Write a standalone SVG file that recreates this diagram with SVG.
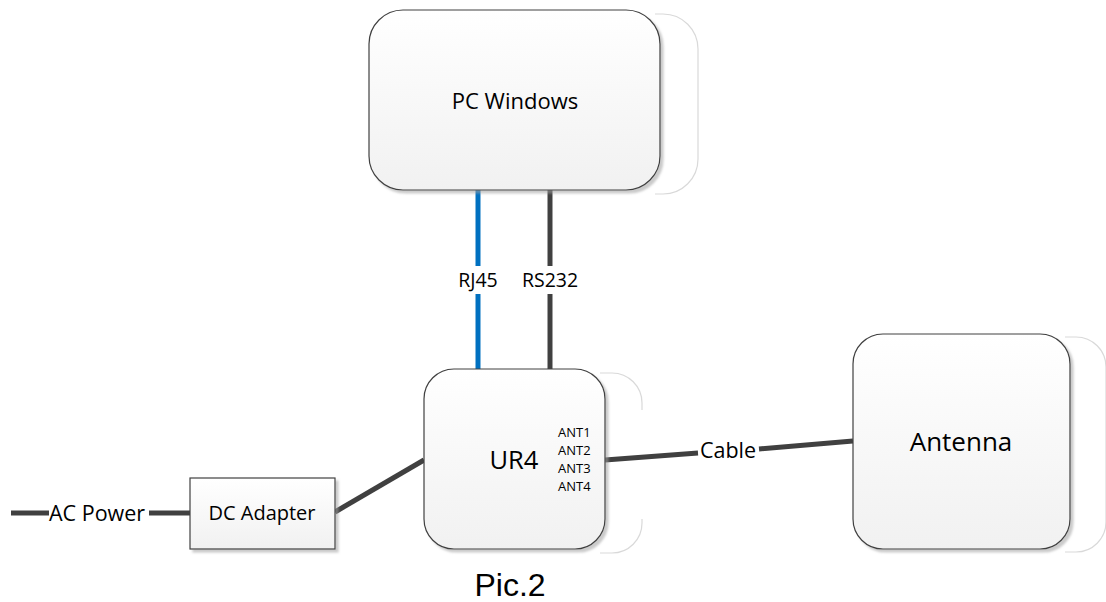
<svg xmlns="http://www.w3.org/2000/svg" width="1106" height="602" viewBox="0 0 1106 602">
<style>
.box{fill:url(#g);stroke:#404040;stroke-width:1.2;filter:url(#sh)}
.ghost{fill:none;stroke:#d9d9d9;stroke-width:1.2}
.ln{stroke:#404040;stroke-width:5;fill:none}
.blue{stroke:#0070C0;stroke-width:5;fill:none}
.t{font-family:"Open Sans","Noto Sans",sans-serif;fill:#000}
</style>
<defs>
<linearGradient id="g" x1="0" y1="0" x2="0" y2="1">
<stop offset="0" stop-color="#ffffff"/>
<stop offset="1" stop-color="#f1f1f1"/>
</linearGradient>
<filter id="sh" x="-10%" y="-10%" width="125%" height="125%">
<feDropShadow dx="3" dy="3" stdDeviation="1.2" flood-color="#a0a0a0" flood-opacity="0.55"/>
</filter>
</defs>
<rect width="1106" height="602" fill="#ffffff"/>
<g id="connectors">
<line class="ln" x1="11" y1="513" x2="49" y2="513"/>
<line class="ln" x1="149" y1="513" x2="190" y2="513"/>
<line class="ln" x1="335" y1="512" x2="424" y2="460"/>
<line class="ln" x1="605" y1="460" x2="698" y2="453"/>
<line class="ln" x1="759" y1="449" x2="853" y2="441"/>
<line class="blue" x1="478" y1="190" x2="478" y2="266"/>
<line class="blue" x1="478" y1="294" x2="478" y2="369"/>
<line class="ln" x1="550" y1="190" x2="550" y2="266"/>
<line class="ln" x1="550" y1="294" x2="550" y2="369"/>
<text class="t" x="49" y="521" font-size="21.5">AC Power</text>
<text class="t" x="728" y="458" font-size="21.5" text-anchor="middle">Cable</text>
<text class="t" x="478" y="287" font-size="19.5" text-anchor="middle">RJ45</text>
<text class="t" x="550" y="287" font-size="19.5" text-anchor="middle">RS232</text>
</g>
<g id="pc">
<path class="ghost" d="M655 14 H663 A35 35 0 0 1 698 49 V159 A35 35 0 0 1 663 194 H655"/>
<rect class="box" x="369" y="10" width="291" height="180" rx="34" ry="34"/>
<text class="t" x="515" y="109" font-size="22" text-anchor="middle">PC Windows</text>
</g>
<g id="ur4">
<path class="ghost" d="M600 373 H612 A30 30 0 0 1 642 403 V410"/>
<path class="ghost" d="M642 519 V523 A30 30 0 0 1 612 553 H600"/>
<rect class="box" x="424" y="369" width="181" height="180" rx="30" ry="30"/>
<text class="t" x="514" y="469" font-size="25.5" text-anchor="middle">UR4</text>
<text class="t" x="558" y="437" font-size="13">ANT1</text>
<text class="t" x="558" y="455" font-size="13">ANT2</text>
<text class="t" x="558" y="473" font-size="13">ANT3</text>
<text class="t" x="558" y="491" font-size="13">ANT4</text>
</g>
<g id="antenna">
<path class="ghost" d="M1065 337 H1076 A30 30 0 0 1 1106 367 V522 A30 30 0 0 1 1076 552 H1065"/>
<rect class="box" x="853" y="334" width="217" height="215" rx="30" ry="30"/>
<text class="t" x="961" y="451" font-size="26" text-anchor="middle">Antenna</text>
</g>
<g id="dcadapter">
<rect class="box" x="190" y="478" width="145" height="71"/>
<text class="t" x="262" y="520" font-size="20" text-anchor="middle">DC Adapter</text>
</g>
<text x="510" y="596" font-family="Liberation Sans, Arial, sans-serif" font-size="32" text-anchor="middle" fill="#000">Pic.2</text>
</svg>
